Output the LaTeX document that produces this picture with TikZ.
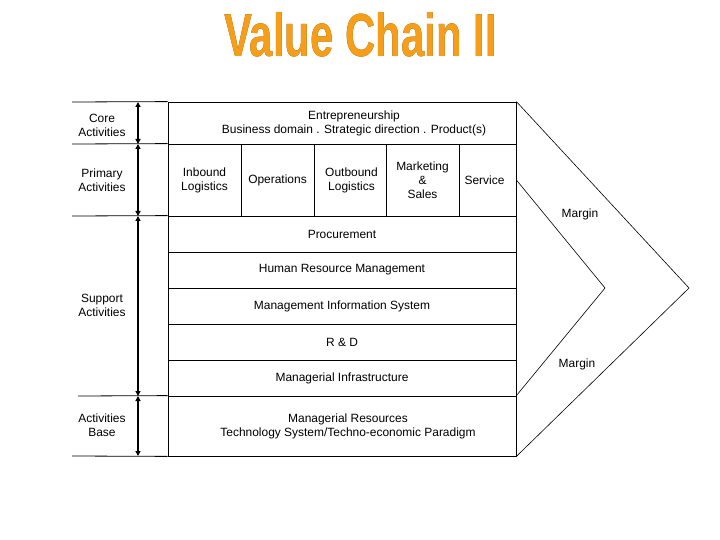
\documentclass[tikz,border=0pt]{standalone}
\usepackage{fontspec}
\setmainfont{Liberation Sans}
\usepackage{pdfrender}
\usetikzlibrary{arrows.meta}
\definecolor{titleorange}{RGB}{247,158,24}
\definecolor{titleedge}{RGB}{110,60,10}

\begin{document}
\begin{tikzpicture}[x=1bp, y=-1bp,
  cell/.style={draw, line width=0.8bp, inner sep=0pt, align=center, font=\fontsize{12}{14}\selectfont},
  side/.style={align=center, font=\fontsize{12}{14}\selectfont},
  span/.style={line width=2.2bp, {Triangle[length=5bp,width=5bp]}-{Triangle[length=5bp,width=5bp]}},
  edge/.style={line width=0.6bp}]

% Canvas
\useasboundingbox (0,0) rectangle (720,540);

% Title (brown outline under orange fill)
\node[anchor=base, inner sep=0pt, font=\fontsize{61}{61}\selectfont\bfseries] (title) at (360.5,57)
  {\scalebox{0.69}[1]{\rlap{\color{titleedge}\textpdfrender{TextRenderingMode=FillStroke, LineWidth=2.6}{Value Chain II}}%
    \color{titleorange}Value Chain II}};

% Core row
\node[cell, minimum width=348bp, minimum height=42bp] (entre) at (342,123)
  {\hspace*{24bp}Entrepreneurship\\\hspace*{24bp}Business domain . Strategic direction . Product(s)};

% Primary row
\node[cell, minimum width=73bp, minimum height=72bp] (inbound) at (204.5,180) {Inbound\\Logistics};
\node[cell, minimum width=73bp, minimum height=72bp] (ops) at (277.5,180) {Operations};
\node[cell, minimum width=72bp, minimum height=72bp] (outbound) at (350,180) {\hspace*{3bp}Outbound\\\hspace*{3bp}Logistics};
\node[cell, minimum width=73bp, minimum height=72bp] (mkt) at (422.5,180) {Marketing\\\&\\Sales};
\node[cell, minimum width=57bp, minimum height=72bp] (serv) at (487.5,180) {Service\hspace*{6bp}};

% Support rows
\foreach \y/\name/\txt in {234/proc/Procurement, 270/hrm/Human Resource Management,
    306/mis/Management Information System, 342/rnd/R \& D, 378/infra/Managerial Infrastructure} {
  \node[cell, minimum width=348bp, minimum height=36bp] (\name) at (342,\y) {\txt};
}

% Base row
\node[cell, minimum width=348bp, minimum height=60bp] (base) at (342,426)
  {\hspace*{12bp}Managerial Resources\\\hspace*{12bp}Technology System/Techno-economic Paradigm};

% Left labels
\node[side] (core) at (102,125) {Core\\Activities};
\node[side] (primary) at (102,180) {Primary\\Activities};
\node[side] (support) at (102,305) {Support\\Activities};
\node[side] (actbase) at (102,425) {Activities\\Base};

% Left rules
\draw[line width=0.8bp] (72,102) -- (entre.north west);
\draw[line width=0.8bp] (72,144) -- (inbound.north west);
\draw[line width=0.8bp] (72,216) -- (proc.north west);
\draw[line width=0.8bp] (78,396) -- (base.north west);
\draw[line width=0.8bp] (72,456) -- (base.south west);

% Span arrows
\coordinate (s0) at (138,102);
\coordinate (s1) at (138,144);
\coordinate (s2) at (138,216);
\coordinate (s3) at (138,396);
\coordinate (s4) at (138,456);
\draw[span] (s0) -- (s1);
\draw[span] (s1) -- (s2);
\draw[span] (s2) -- (s3);
\draw[span] (s3) -- (s4);

% Margin chevrons
\coordinate (outertip) at (689,288);
\coordinate (innertip) at (605,288);
\draw[edge] (entre.north east) -- (outertip) -- (base.south east);
\draw[edge] (serv.east) -- (innertip) -- (base.north east);
\node[side] (margin1) at (580,214) {Margin};
\node[side] (margin2) at (577,364) {Margin};

\end{tikzpicture}
\end{document}
